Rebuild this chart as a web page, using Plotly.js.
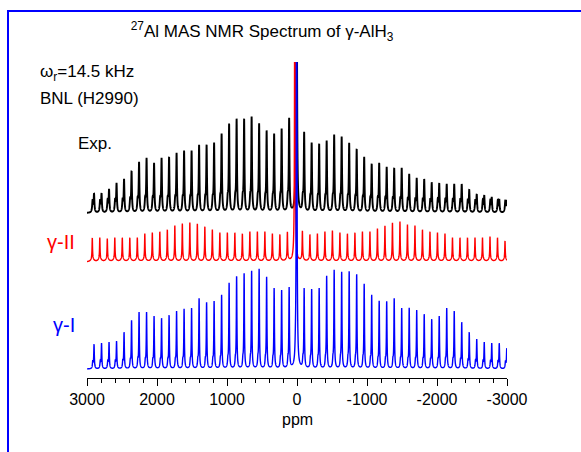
<!DOCTYPE html>
<html>
<head>
<meta charset="utf-8">
<script src="https://cdn.plot.ly/plotly-3.0.1.min.js"></script>
<style>
html, body { margin: 0; padding: 0; background: #ffffff; }
#chart { width: 581px; height: 452px; }
</style>
</head>
<body>
<div id="chart"></div>
<script>
// ---------------- DATA ----------------
// Spinning-sideband orders, left (high ppm) to right (low ppm)
const sidebandOrders = [27,26,25,24,23,22,21,20,19,18,17,16,15,14,13,12,11,10,9,8,7,6,5,4,3,2,1,0,
  -1,-2,-3,-4,-5,-6,-7,-8,-9,-10,-11,-12,-13,-14,-15,-16,-17,-18,-19,-20,-21,-22,-23,-24,-25,-26,-27,-28];
const sidebandSpacingPpm = 107.2;   // 14.5 kHz spinning rate expressed in ppm
const expCenterPpm = 5;
const gammaIICenterPpm = 30;
const gammaICenterPpm = 5;

// Sideband intensities (arbitrary units), same order as sidebandOrders
const expIntensity = [18,18,22,28,32,40,49,53,48,53,54,58,60,60,66,66,68,77,87,92,92,94,87,80,77,82,92,
  300,
  78,68,67,70,76,74,68,62,54,47,48,44,43,43,37,33,32,28,28,27,27,27,21,17,16,14,12,11];
const gammaIIIntensity = [21,21,20,21,21,21,21,25,26,27,29,33,35,36,35,32,29,26,26,26,25,27,27,27,25,24,26,
  500,
  27,24,25,27,28,26,25,26,27,27,30,33,36,37,34,33,29,27,26,25,21,21,21,21,21,22,21,18];
const gammaIIntensity = [24,25,26,27,36,48,56,56,52,50,53,57,59,60,70,66,67,73,85,92,95,97,99,91,80,78,80,
  500,
  79,79,80,92,98,96,97,94,84,73,67,67,70,60,60,58,54,49,52,60,57,46,36,29,26,25,25,20];
// Small secondary component under each sideband
const expSecondaryHeight = 12;
const gammaISecondaryHeight = 7;
const gammaIISecondaryHeight = 3;

const tickValues = [3000, 2000, 1000, 0, -1000, -2000, -3000];
const tickLabels = ['3000', '2000', '1000', '0', '-1000', '-2000', '-3000'];

// ---------------- RENDERING ----------------
const FONT = 'Liberation Sans, Arial, Helvetica, sans-serif';
const W = 581, H = 452;
const ML = 87, MR = 74, MT = 62, MB = 74;
const PW = W - ML - MR, PH = H - MT - MB;
const px = x => (x - ML) / PW;          // pixel -> paper x
const py = y => (H - MB - y) / PH;      // pixel -> paper y

function lineshape(center, intens, base, w, sec) {
  const xs = [], ys = [];
  for (let k = 0; k <= 6000; k++) {
    const x = 3000 - k;
    let y = 0;
    for (let i = 0; i < sidebandOrders.length; i++) {
      const p = center + sidebandOrders[i] * sidebandSpacingPpm;
      const d = x - p;
      if (Math.abs(d) > 450) continue;
      y += intens[i] * w * w / (d * d + w * w);
      const d2 = d - sec.offset;
      y += sec.height * sec.w * sec.w / (d2 * d2 + sec.w * sec.w);
    }
    xs.push(x);
    ys.push(base + y);
  }
  return { xs, ys };
}

const expCurve = lineshape(expCenterPpm, expIntensity, 165, 6, { height: expSecondaryHeight, offset: 20, w: 8 });
const g2Curve = lineshape(gammaIICenterPpm, gammaIIIntensity, 116, 4, { height: gammaIISecondaryHeight, offset: 0, w: 25 });
const g1Curve = lineshape(gammaICenterPpm, gammaIIntensity, 9, 5, { height: gammaISecondaryHeight, offset: 18, w: 6 });

const traces = [
  { x: expCurve.xs, y: expCurve.ys, type: 'scatter', mode: 'lines', hoverinfo: 'skip',
    line: { color: '#000000', width: 1.9, simplify: false } },
  { x: g2Curve.xs, y: g2Curve.ys, type: 'scatter', mode: 'lines', hoverinfo: 'skip',
    line: { color: '#ff0000', width: 1.4, simplify: false } },
  { x: g1Curve.xs, y: g1Curve.ys, type: 'scatter', mode: 'lines', hoverinfo: 'skip',
    line: { color: '#0000ff', width: 1.4, simplify: false } }
];

const ann = (text, x, y, opts) => Object.assign({
  text: text, xref: 'paper', yref: 'paper', x: px(x), y: py(y),
  xanchor: 'left', yanchor: 'middle', showarrow: false,
  font: { family: FONT, size: 17, color: '#000000' }
}, opts || {});

const layout = {
  width: W, height: H,
  margin: { l: ML, r: MR, t: MT, b: MB },
  paper_bgcolor: '#ffffff', plot_bgcolor: '#ffffff',
  showlegend: false,
  title: {
    text: '<sup>27</sup>Al MAS NMR Spectrum of γ-AlH<sub>3</sub>',
    xref: 'container', yref: 'container',
    x: 262 / W, xanchor: 'center', y: 1 - 31 / H, yanchor: 'middle',
    font: { family: FONT, size: 17, color: '#000000' }
  },
  xaxis: {
    range: [3000, -3000],
    tickmode: 'array', tickvals: tickValues, ticktext: tickLabels,
    ticks: 'outside', ticklen: 7, tickwidth: 1, tickcolor: '#000000',
    ticklabelstandoff: 0,
    minor: { tickmode: 'linear', tick0: 0, dtick: 200, ticks: 'outside', ticklen: 4, tickwidth: 1, tickcolor: '#000000', showgrid: false },
    showline: true, linecolor: '#000000', linewidth: 1,
    showgrid: false, zeroline: false,
    tickfont: { family: FONT, size: 16, color: '#000000' },
    fixedrange: true
  },
  yaxis: { range: [0, PH], visible: false, fixedrange: true },
  annotations: [
    ann('ω<sub>r</sub>=14.5 kHz', 38, 73),
    ann('BNL (H2990)', 38, 99),
    ann('Exp.', 76, 143),
    ann('γ-II', 77, 242, { xanchor: 'right', font: { family: FONT, size: 20, color: '#ff0000' } }),
    ann('γ-I', 77, 325, { xanchor: 'right', font: { family: FONT, size: 20, color: '#0000ff' } }),
    ann('ppm', 297, 419, { xanchor: 'center', font: { family: FONT, size: 16, color: '#000000' } })
  ],
  shapes: [
    { type: 'rect', xref: 'paper', yref: 'paper', layer: 'above',
      x0: px(8), x1: px(640), y0: py(11), y1: py(520),
      line: { color: '#0000ff', width: 2 }, fillcolor: 'rgba(0,0,0,0)' }
  ]
};

Plotly.newPlot('chart', traces, layout, { displayModeBar: false, staticPlot: true });
</script>
</body>
</html>
